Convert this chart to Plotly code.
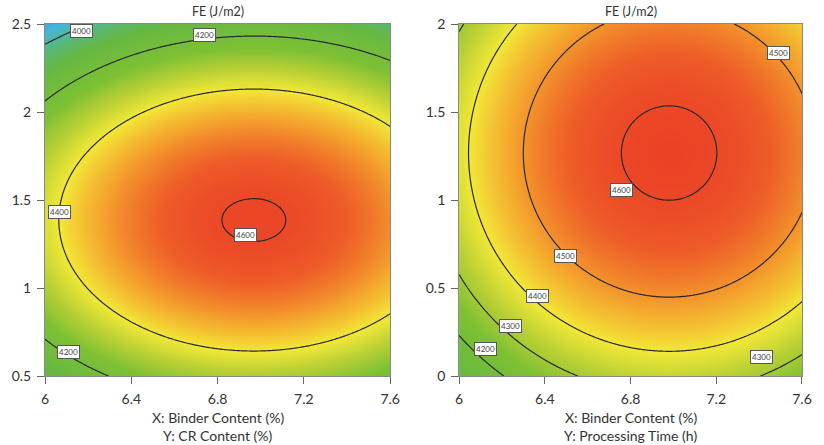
import numpy as np
import plotly.graph_objects as go

# ---- Data (response-surface models) ----
titles = ["FE (J/m2)", "FE (J/m2)"]
x_title_lines = [["X: Binder Content (%)", "Y: CR Content (%)"],
                 ["X: Binder Content (%)", "Y: Processing Time (h)"]]
x_range = [6.0, 7.6]
y_ranges = [[0.5, 2.5], [0.0, 2.0]]
x_ticks = [6.0, 6.4, 6.8, 7.2, 7.6]
x_ticklabels = ["6", "6.4", "6.8", "7.2", "7.6"]
y_ticks = [[0.5, 1.0, 1.5, 2.0, 2.5], [0.0, 0.5, 1.0, 1.5, 2.0]]
y_ticklabels = [["0.5", "1", "1.5", "2", "2.5"], ["0", "0.5", "1", "1.5", "2"]]

# quadratic model: FE = peak - ax*(x-x0)^2 - by*(y-y0)^2
peak = [4605.5, 4612.0]
x0 = [6.968, 6.98]
y0 = [1.386, 1.267]
ax_curv = [251.5, 242.0]
by_curv = [371.0, 167.0]

contour_start = [4000, 4200]
contour_end = [4600, 4600]
contour_step = [200, 100]

# contour label annotations: (x, y, text)
labels_left = [(6.17, 2.46, "4000"), (6.74, 2.44, "4200"), (6.065, 1.43, "4400"),
               (6.93, 1.30, "4600"), (6.11, 0.636, "4200")]
labels_right = [(7.49, 1.835, "4500"), (6.76, 1.057, "4600"), (6.495, 0.68, "4500"),
                (6.367, 0.455, "4400"), (6.24, 0.284, "4300"), (6.124, 0.153, "4200"),
                (7.413, 0.108, "4300")]

zmin, zmax = 3880, 4620
color_stops = [(3880, "rgb(50,160,235)"), (3950, "rgb(70,182,215)"),
               (4030, "rgb(88,184,120)"), (4110, "rgb(102,184,66)"),
               (4250, "rgb(125,192,52)"), (4330, "rgb(185,208,52)"),
               (4400, "rgb(242,232,55)"), (4480, "rgb(244,165,45)"),
               (4560, "rgb(238,92,40)"), (4620, "rgb(234,62,38)")]
colorscale = [[(v - zmin) / (zmax - zmin), c] for v, c in color_stops]

FONT = "Lato, Open Sans"

fig = go.Figure()
for i in range(2):
    xs = np.linspace(x_range[0], x_range[1], 241)
    ys = np.linspace(y_ranges[i][0], y_ranges[i][1], 241)
    X, Y = np.meshgrid(xs, ys)
    Z = peak[i] - ax_curv[i] * (X - x0[i]) ** 2 - by_curv[i] * (Y - y0[i]) ** 2
    fig.add_trace(go.Contour(
        x=xs, y=ys, z=Z, xaxis="x" if i == 0 else "x2", yaxis="y" if i == 0 else "y2",
        colorscale=colorscale, zmin=zmin, zmax=zmax, showscale=False,
        autocontour=False,
        contours=dict(start=contour_start[i], end=contour_end[i], size=contour_step[i],
                      coloring="heatmap", showlabels=False),
        line=dict(color="rgb(40,40,40)", width=1.2, smoothing=1.0),
        hoverinfo="skip",
    ))

axis_common = dict(showgrid=False, zeroline=False, showline=True, linecolor="#888",
                   linewidth=1, mirror=True, ticks="outside", ticklen=7,
                   tickcolor="#666", ticklabelstandoff=3,
                   tickfont=dict(family=FONT, size=14, color="#333"))
doms = [[0, 0.456], [0.547, 1.0]]
layout = dict(width=824, height=445, margin=dict(l=38, r=16, t=24, b=69),
              paper_bgcolor="white", plot_bgcolor="white", showlegend=False)
for i in range(2):
    sfx = "" if i == 0 else "2"
    layout["xaxis" + sfx] = dict(axis_common, domain=doms[i], range=x_range,
                                 tickvals=x_ticks, ticktext=x_ticklabels,
                                 anchor="y" + sfx)
    layout["yaxis" + sfx] = dict(axis_common, domain=[0, 1], range=y_ranges[i],
                                 tickvals=y_ticks[i], ticktext=y_ticklabels[i],
                                 anchor="x" + sfx)
fig.update_layout(**layout)

annotations = []
for i in range(2):
    sfx = "" if i == 0 else "2"
    annotations.append(dict(text=titles[i], xref="x" + sfx + " domain", yref="paper",
                            x=0.5, y=1.0, yshift=3, yanchor="bottom", showarrow=False,
                            font=dict(family=FONT, size=12.5, color="#333")))
    for k, line in enumerate(x_title_lines[i]):
        annotations.append(dict(text=line, xref="x" + sfx + " domain", yref="paper",
                                x=0.5, y=0.0, yshift=-41 - 18 * k, yanchor="middle",
                                showarrow=False,
                                font=dict(family=FONT, size=14, color="#333")))
    for (lx, ly, t) in (labels_left if i == 0 else labels_right):
        annotations.append(dict(text=t, x=lx, y=ly, xref="x" + sfx, yref="y" + sfx,
                                showarrow=False, bgcolor="white", bordercolor="#555",
                                borderwidth=1, borderpad=1,
                                font=dict(family=FONT, size=8, color="#444")))
fig.update_layout(annotations=annotations)

fig.write_html("out.html")
